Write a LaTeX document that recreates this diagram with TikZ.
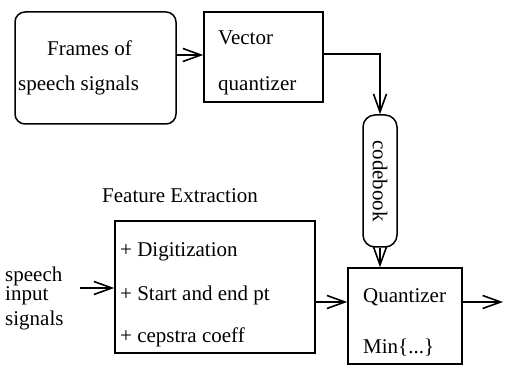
\documentclass[tikz,border=0pt]{standalone}
\usepackage{fontspec}
\setmainfont{Liberation Serif}
\usetikzlibrary{arrows.meta}
\begin{document}
\begin{tikzpicture}[x=1pt,y=-1pt,
  every node/.style={font=\fontsize{21}{24}\selectfont},
  lbl/.style={anchor=base west,inner sep=0pt},
  box/.style={draw,line width=1.5pt,inner sep=0pt},
  conn/.style={line width=1.5pt,-{Straight Barb[length=18pt,width=13pt,line width=1.6pt]}}]
\useasboundingbox (0,0) rectangle (509,366);
% boxes
\node[box,rounded corners=10pt,minimum width=161pt,minimum height=112pt] (frames) at (95.5,68) {};
\node[box,minimum width=119pt,minimum height=90pt] (vq) at (263.5,57) {};
\node[box,rounded corners=12pt,minimum width=34pt,minimum height=132pt] (cb) at (380,181) {};
\node[box,minimum width=200pt,minimum height=132pt] (fe) at (215,287) {};
\node[box,minimum width=114pt,minimum height=96pt] (qz) at (405,316) {};
% texts
\node[lbl] (t1) at (47,56) {Frames of};
\node[lbl] (t2) at (18,91) {speech signals};
\node[lbl] (t3) at (218,45) {Vector};
\node[lbl] (t4) at (218,91) {quantizer};
\node[rotate=-90,inner sep=0pt] (t5) at (cb.center) {codebook};
\node[lbl] (t6) at (102,203) {Feature Extraction};
\node[lbl] (t7) at (120,257) {+ Digitization};
\node[lbl] (t8) at (120,301) {+ Start and end pt};
\node[lbl] (t9) at (120,342) {+ cepstra coeff};
\node[lbl] (t10) at (363,302) {Quantizer};
\node[lbl] (t11) at (363,353) {Min\{...\}};
\node[lbl] (t12) at (5,282) {speech};
\node[lbl] (t13) at (5,301) {input};
\node[lbl] (t14) at (5,325) {signals};
% connectors
\coordinate (inS) at (80,288);
\coordinate (outE) at (503,302);
\draw[conn] (frames.east |- 0,55) -- (vq.west |- 0,55);
\draw[conn] (vq.east |- 0,54) -| (cb.north);
\draw[conn] (cb.south) -- (cb.south |- qz.north);
\draw[conn] (inS) -- (fe.west |- inS);
\draw[conn] (fe.east |- 0,302) -- (qz.west |- 0,302);
\draw[conn] (qz.east |- outE) -- (outE);
\end{tikzpicture}
\end{document}
